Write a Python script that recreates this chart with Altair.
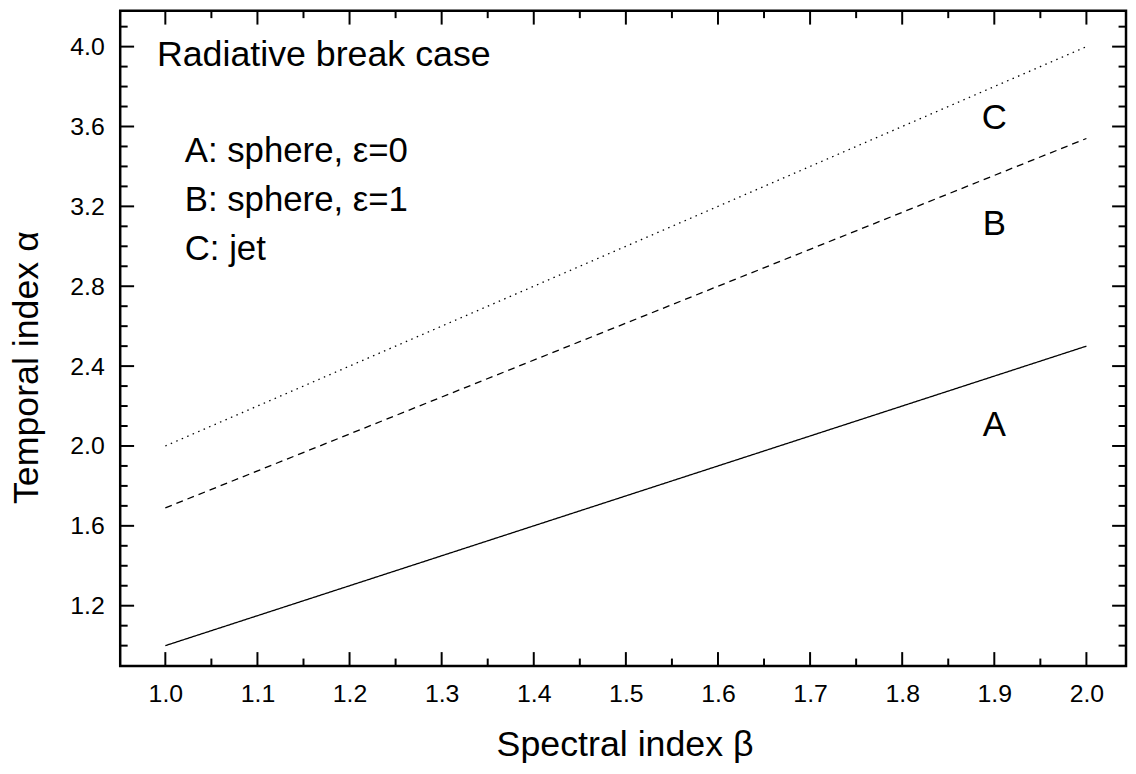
import altair as alt
import pandas as pd

# ---- data ----
beta = [1.0, 2.0]
alpha_A = [1.0, 2.5]
alpha_B = [1.69, 3.54]
alpha_C = [2.0, 4.0]
curve_names = ["A", "B", "C"]

label_names = ["A", "B", "C"]
label_beta = [1.9, 1.9, 1.9]
label_alpha = [2.107, 3.11, 3.64]

x_major = [1.0, 1.1, 1.2, 1.3, 1.4, 1.5, 1.6, 1.7, 1.8, 1.9, 2.0]
x_minor = [1.05, 1.15, 1.25, 1.35, 1.45, 1.55, 1.65, 1.75, 1.85, 1.95]
y_major = [1.2, 1.6, 2.0, 2.4, 2.8, 3.2, 3.6, 4.0]
y_minor = [1.0, 1.1, 1.3, 1.4, 1.5, 1.7, 1.8, 1.9, 2.1, 2.2, 2.3, 2.5, 2.6, 2.7,
           2.9, 3.0, 3.1, 3.3, 3.4, 3.5, 3.7, 3.8, 3.9, 4.1]

notes = ["Radiative break case", "A: sphere, \u03b5=0", "B: sphere, \u03b5=1", "C: jet"]

# ---- layout ----
W, H = 1013, 660
FONT = "Liberation Sans"
xs = alt.Scale(domain=[0.951, 2.043], nice=False, zero=False)
ys = alt.Scale(domain=[0.898, 4.18], nice=False, zero=False)

rows = []
for name, vals in zip(curve_names, [alpha_A, alpha_B, alpha_C]):
    for b, a in zip(beta, vals):
        rows.append({"beta": b, "alpha": a, "curve": name})
lines_df = pd.DataFrame(rows)

lines = alt.Chart(lines_df).mark_line(color="black", strokeWidth=1.3).encode(
    x=alt.X("beta:Q", scale=xs,
            axis=alt.Axis(values=x_major, format=".1f", title="Spectral index \u03b2",
                          labelFontSize=25, labelPadding=16, titleFontSize=36,
                          titleX=508, titleY=90, titleBaseline="alphabetic")),
    y=alt.Y("alpha:Q", scale=ys,
            axis=alt.Axis(values=y_major, format=".1f", title="Temporal index \u03b1",
                          labelFontSize=25, labelPadding=16, titleFontSize=36,
                          titleAngle=270, titleX=-83, titleY=359,
                          titleBaseline="alphabetic")),
    strokeDash=alt.StrokeDash("curve:N",
                              scale=alt.Scale(domain=curve_names,
                                              range=[[1, 0], [7, 5], [1.5, 4.5]]),
                              legend=None),
    detail="curve:N",
)

def xticks(vals, length, top):
    df = pd.DataFrame({"beta": vals})
    if top:
        yy, yy2 = 0, length
    else:
        yy, yy2 = H, H - length
    return alt.Chart(df).mark_rule(color="black", strokeWidth=2).encode(
        x=alt.X("beta:Q", scale=xs), y=alt.value(yy), y2=alt.value(yy2))

def yticks(vals, length, right):
    df = pd.DataFrame({"alpha": vals})
    if right:
        xx, xx2 = W, W - length
    else:
        xx, xx2 = 0, length
    return alt.Chart(df).mark_rule(color="black", strokeWidth=2).encode(
        y=alt.Y("alpha:Q", scale=ys), x=alt.value(xx), x2=alt.value(xx2))

ticks = [
    xticks(x_major, 14, False), xticks(x_minor, 7.5, False),
    xticks(x_major, 14, True), xticks(x_minor, 7.5, True),
    yticks(y_major, 14, False), yticks(y_minor, 7.5, False),
    yticks(y_major, 14, True), yticks(y_minor, 7.5, True),
]

labels_df = pd.DataFrame({"name": label_names, "beta": label_beta, "alpha": label_alpha})
curve_labels = alt.Chart(labels_df).mark_text(
    font=FONT, fontSize=35, color="black", baseline="middle", align="center"
).encode(
    x=alt.X("beta:Q", scale=xs),
    y=alt.Y("alpha:Q", scale=ys),
    text="name:N",
)

note_pos = [(37, 56, 36), (65, 152, 35), (65, 202, 35), (65, 251, 35)]
note_layers = []
for txt, (px, py, fs) in zip(notes, note_pos):
    note_layers.append(
        alt.Chart(alt.Data(values=[{}])).mark_text(
            text=txt, font=FONT, fontSize=fs, color="black",
            align="left", baseline="alphabetic"
        ).encode(x=alt.value(px), y=alt.value(py))
    )

chart = alt.layer(lines, *ticks, curve_labels, *note_layers).properties(
    width=W, height=H,
    autosize=alt.AutoSizeParams(type="none"),
    padding={"left": 113, "top": 0, "right": 2, "bottom": 98},
).configure_view(
    stroke="black", strokeWidth=2.5
).configure_axis(
    grid=False, domain=False, ticks=False, tickSize=0,
    labelFont=FONT, titleFont=FONT, labelColor="black", titleColor="black",
    titleFontWeight="normal",
)

chart.save("out.html", embed_options={"renderer": "svg", "actions": False})
